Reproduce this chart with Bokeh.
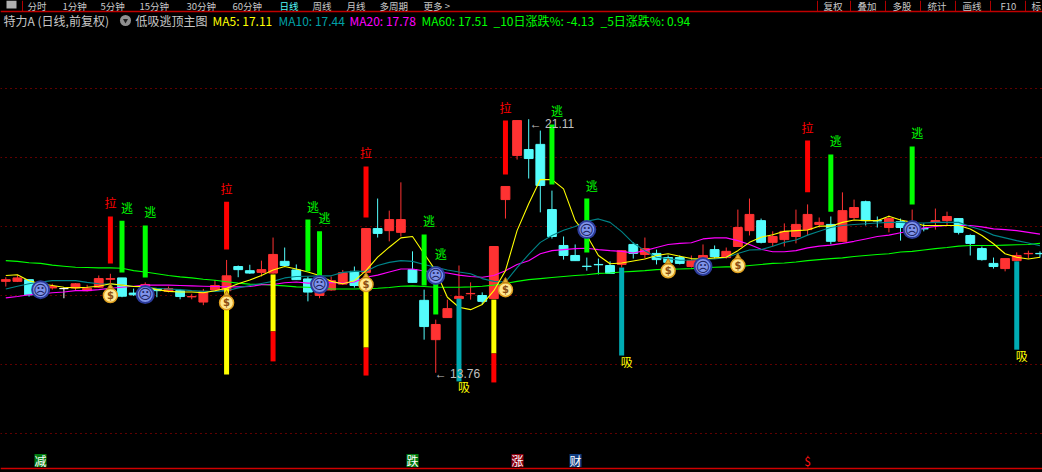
from bokeh.plotting import figure
from bokeh.embed import file_html
from bokeh.resources import INLINE
from bokeh.core.properties import value
from bokeh.models import FixedTicker, Range1d, GlobalInlineStyleSheet

# ---- series (prices) ----
opens = [16.41,16.41,16.46,16.32,16.22,16.20,16.22,16.14,16.24,16.47,16.51,16.07,16.14,16.19,16.12,16.14,15.96,15.81,16.16,16.14,
         16.84,16.72,16.67,16.65,16.99,16.74,16.48,16.00,16.16,16.33,16.70,16.67,17.94,17.88,17.83,16.75,15.86,14.72,15.36,15.91,
         16.05,16.00,15.91,18.78,20.06,20.23,20.38,18.49,17.45,17.16,16.85,16.90,16.87,16.90,17.48,17.19,17.22,17.10,17.10,16.84,
         17.07,17.33,17.10,17.42,17.88,18.17,17.54,17.62,17.71,17.91,18.06,18.06,17.57,18.26,18.72,18.17,17.97,18.14,17.97,17.94,
         18.12,18.17,18.23,17.74,17.36,16.93,16.78,17.01,17.21,17.22]
closes = [16.46,16.51,16.02,16.14,16.26,16.20,16.34,16.21,16.49,16.49,15.98,16.02,16.32,16.14,16.20,15.97,15.97,16.12,16.29,16.57,
          16.75,16.65,16.75,17.19,16.87,16.46,16.10,16.11,16.43,16.66,16.29,17.94,17.80,18.20,18.20,16.38,15.10,15.16,15.62,15.97,
          16.06,15.83,17.42,19.16,21.07,19.97,19.19,17.71,17.16,17.01,16.84,16.89,16.64,17.30,17.22,17.36,17.04,16.96,16.93,17.01,
          17.16,17.13,17.28,17.97,18.35,17.54,17.71,17.86,18.06,18.35,18.12,17.57,18.46,18.55,18.17,18.16,18.23,17.97,18.14,17.93,
          18.17,18.29,17.83,17.51,17.04,16.84,17.07,17.16,17.22,17.21]
highs = [16.53,16.60,16.46,16.38,16.34,16.24,16.36,16.31,16.58,16.63,16.51,16.20,16.38,16.19,16.26,16.19,16.05,16.19,16.45,17.03,
         16.87,16.89,17.01,17.68,17.39,16.90,16.55,16.24,16.55,16.74,16.84,17.94,18.81,18.46,19.28,17.28,16.17,15.30,15.88,16.87,
         16.38,16.09,17.42,19.16,21.07,21.11,20.78,19.04,17.71,17.48,17.10,17.07,16.99,17.30,17.54,17.68,17.33,17.16,17.16,17.16,
         17.48,17.45,17.39,18.49,18.81,18.23,17.86,18.09,18.49,18.64,18.26,18.29,18.99,18.78,18.75,18.29,18.32,18.23,18.49,18.09,
         18.52,18.43,18.23,17.77,17.42,17.10,17.07,17.25,17.30,17.28]
lows = [16.26,16.39,15.97,16.06,16.17,15.92,16.14,16.12,16.22,16.34,15.95,15.99,16.08,15.95,16.09,15.89,15.89,15.72,16.14,16.14,
        16.53,16.63,16.55,16.63,16.84,16.45,15.83,15.92,16.14,16.31,16.23,16.67,17.68,17.57,17.71,16.38,14.72,13.76,15.36,15.28,
        15.88,15.74,15.91,18.23,19.94,19.39,18.41,17.65,17.04,17.01,16.72,16.61,16.64,16.81,17.07,17.07,16.90,16.93,16.90,16.81,
        17.01,17.07,17.07,17.42,17.74,17.51,17.42,17.42,17.51,17.74,17.97,17.48,17.57,18.20,18.03,17.97,17.83,17.59,17.88,17.86,
        17.91,18.03,17.77,17.16,17.01,16.78,16.70,16.99,17.07,17.10]

ma5 = [16.58,16.60,16.43,16.34,16.29,16.24,16.22,16.24,16.27,16.34,16.30,16.26,16.26,16.17,16.12,16.10,16.10,16.08,16.14,16.21,
       16.34,16.45,16.58,16.74,16.84,16.77,16.68,16.58,16.41,16.34,16.43,16.72,17.11,17.40,17.67,17.71,17.21,16.72,15.95,15.66,
       15.59,15.74,16.14,16.72,17.88,18.66,19.36,19.36,19.09,18.17,17.74,17.16,16.92,16.94,17.00,17.06,17.16,17.21,17.14,17.07,
       17.06,17.09,17.11,17.30,17.54,17.69,17.76,17.86,17.88,17.90,18.01,18.01,18.12,18.19,18.17,18.17,18.30,18.19,18.12,18.03,
       18.03,18.03,18.03,17.93,17.74,17.50,17.21,17.11,17.06,17.11]
ma10 = [16.19,16.27,16.34,16.39,16.43,16.43,16.43,16.38,16.34,16.33,16.30,16.26,16.24,16.21,16.19,16.17,16.14,16.12,16.12,16.14,
        16.22,16.29,16.35,16.41,16.51,16.55,16.56,16.57,16.57,16.67,16.70,16.70,16.87,16.96,17.01,16.99,16.90,16.82,16.74,16.68,
        16.63,16.49,16.41,16.39,16.81,17.19,17.54,17.74,17.89,18.00,18.15,18.22,18.12,17.85,17.52,17.30,17.11,17.07,17.02,17.03,
        17.06,17.06,17.10,17.22,17.32,17.33,17.43,17.54,17.61,17.75,17.86,17.97,18.03,18.06,18.08,18.10,18.12,18.12,18.10,18.10,
        18.12,18.12,18.12,18.00,17.90,17.75,17.67,17.59,17.52,17.44]
ma20 = [15.93,15.97,16.02,16.04,16.08,16.10,16.14,16.14,16.17,16.21,16.24,16.27,16.30,16.30,16.30,16.29,16.28,16.27,16.26,16.25,
        16.25,16.26,16.31,16.32,16.37,16.39,16.36,16.36,16.38,16.36,16.39,16.53,16.59,16.68,16.77,16.77,16.71,16.68,16.65,16.59,
        16.55,16.53,16.58,16.72,16.90,17.01,17.21,17.30,17.33,17.36,17.37,17.33,17.30,17.28,17.23,17.30,17.39,17.48,17.51,17.53,
        17.64,17.67,17.67,17.59,17.48,17.34,17.27,17.27,17.30,17.38,17.43,17.46,17.51,17.57,17.64,17.71,17.75,17.82,17.88,17.96,
        18.00,18.03,18.03,18.03,17.99,17.93,17.91,17.88,17.83,17.78]
ma60 = [17.01,16.99,16.95,16.93,16.88,16.85,16.82,16.81,16.80,16.80,16.79,16.72,16.68,16.63,16.58,16.54,16.51,16.47,16.44,16.40,
        16.36,16.33,16.32,16.30,16.28,16.25,16.24,16.22,16.19,16.19,16.19,16.20,16.21,16.23,16.27,16.28,16.26,16.24,16.24,16.24,
        16.25,16.27,16.30,16.35,16.41,16.46,16.49,16.52,16.55,16.58,16.60,16.64,16.65,16.68,16.70,16.72,16.75,16.76,16.77,16.78,
        16.80,16.82,16.83,16.83,16.87,16.90,16.93,16.94,16.97,17.01,17.04,17.07,17.09,17.13,17.16,17.19,17.21,17.26,17.28,17.32,
        17.36,17.39,17.43,17.45,17.45,17.45,17.46,17.47,17.48,17.51]

# signal bars: day index, top price, bottom price
la_idx = [9,19,31,43,69]
la_top = [18.29,18.72,19.74,21.07,20.49]
la_bot = [16.93,17.33,18.26,19.51,18.99]
tao_idx = [10,12,26,27,36,37,47,50,71,78]
tao_top = [18.17,18.03,18.20,17.86,17.77,16.84,20.96,18.81,20.09,20.32]
tao_bot = [16.67,16.52,16.70,16.38,16.29,15.45,19.22,17.25,18.43,18.64]
yel_idx = [19,23,31,42]
yel_top = [16.20,16.61,16.12,15.88]
yel_bot = [13.71,14.96,14.49,14.32]
low_red_idx = [23,31,42]
low_red_top = [14.96,14.49,14.32]
low_red_bot = [14.09,13.68,13.48]
xi_idx = [39,53,87]
xi_top = [15.91,16.81,16.99]
xi_bot = [13.51,14.26,14.43]

face_idx = [3,12,27,37,50,60,78]
face_y = [16.17,16.03,16.32,16.58,17.91,16.84,17.91]
bag_idx = [9,19,31,43,57,63]
bag_y = [16.09,15.88,16.41,16.26,16.81,16.96]

grid_prices = [12,14,16,18,20,22]

header_texts = ["特力A (日线,前复权)", "低吸逃顶主图", "MA5: 17.11", "MA10: 17.44", "MA20: 17.78", "MA60: 17.51", "_10日涨跌%: -4.13", "_5日涨跌%: 0.94"]
header_x = [3, 135, 212, 278, 349, 421, 493, 600]
header_col = ["#c8c8c8", "#c8c8c8", "#ffff00", "#00a0a8", "#ff00ff", "#00ff00", "#00ff00", "#00ff00"]
tool_texts = ["分时", "1分钟", "5分钟", "15分钟", "30分钟", "60分钟", "日线", "周线", "月线", "多周期", "更多 >"]
tool_x = [27, 62, 100, 139, 186, 232, 279, 312, 346, 379, 423]
right_texts = ["复权", "叠加", "多股", "统计", "画线", "F10", "标"]
right_x = [823, 857, 892, 927, 962, 1000, 1031]
sep_x = [22, 817, 850, 885, 920, 955, 990, 1025]
tag_texts = ["减", "跌", "涨", "财", "$"]
tag_x = [40, 412, 517, 575, 807]
tag_bg = ["#007c10", "#007c10", "#8c0010", "#103c80", "#000000"]
tag_fg = ["#ffffff", "#ffffff", "#ffffff", "#ffffff", "#ff1010"]

# reference pixels to data units, for the page furniture only
def rx(x): return (x - 5.3) / 11.62
def ry(y): return 18 + (226 - y) / 34.5
def rxs(v): return [rx(a) for a in v]

CJK = value("Noto Sans CJK SC")
p = figure(width=1042, height=472, output_backend="svg", toolbar_location=None,
           x_range=Range1d(rx(0), rx(1042)), y_range=Range1d(ry(472), ry(0)),
           background_fill_color="#000000", border_fill_color="#000000", min_border=0)
p.stylesheets = [GlobalInlineStyleSheet(css="html,body{background:#000;overflow:hidden;}")]
p.xaxis.visible = False
p.yaxis.visible = False
p.xgrid.visible = False
p.outline_line_color = None
p.ygrid[0].ticker = FixedTicker(ticks=grid_prices)
p.ygrid[0].grid_line_color = "#c00000"
p.ygrid[0].grid_line_dash = "1 4"
p.ygrid[0].grid_line_width = 1

# candles
n = len(opens)
idx = list(range(n))
cols = ["#ff3232" if c > o else "#54fcfc" if c < o else "#ffffff" for o, c in zip(opens, closes)]
tops = [max(o, c) for o, c in zip(opens, closes)]
bots = [min(o, c) for o, c in zip(opens, closes)]
p.segment(idx, lows, idx, highs, line_color=cols, line_width=1)
p.vbar(x=idx, top=tops, bottom=bots, width=0.76, fill_color=cols, line_color=cols, line_width=1)

# moving averages
for ma, col in ((ma60, "#00ff00"), (ma20, "#ff00ff"), (ma10, "#008488"), (ma5, "#ffff00")):
    p.line(idx, ma, line_color=col, line_width=1.1)

# signal bars
bw = 0.43
p.vbar(x=la_idx, top=la_top, bottom=la_bot, width=bw, fill_color="#ff0000", line_color=None)
p.vbar(x=tao_idx, top=tao_top, bottom=tao_bot, width=bw, fill_color="#00ff00", line_color=None)
p.vbar(x=yel_idx, top=yel_top, bottom=yel_bot, width=bw, fill_color="#ffff00", line_color=None)
p.vbar(x=low_red_idx, top=low_red_top, bottom=low_red_bot, width=bw, fill_color="#ff0000", line_color=None)
p.vbar(x=xi_idx, top=xi_top, bottom=xi_bot, width=bw, fill_color="#00acb4", line_color=None)

# signal captions
sig = dict(text_font=CJK, text_font_size="12px", text_align="center")
p.text(la_idx, la_top, text=["拉"] * len(la_idx), text_color="#ff0000", text_baseline="bottom", y_offset=-5, **sig)
p.text(tao_idx, tao_top, text=["逃"] * len(tao_idx), text_color="#00ff00", text_baseline="bottom", y_offset=-5, x_offset=5, **sig)
p.text(xi_idx, xi_bot, text=["吸"] * len(xi_idx), text_color="#ffff00", text_baseline="top", x_offset=5, y_offset=-3, **sig)

# high / low marks
p.text([45, 37], [21.11, 13.76], text=["← 21.11", "← 13.76"], text_color="#c0c0c0", text_font=value("Liberation Sans"),
       text_font_size="12px", text_baseline="middle", text_align="left", x_offset=[1, -1], y_offset=[5, 1])

# face icons
p.scatter(face_idx, face_y, size=17, marker="circle", fill_color="#7f93ea", line_color="#2c3c9c", line_width=2)
p.text(face_idx, face_y, text=["☹"] * len(face_idx), text_color="#1c2460", text_font=value("DejaVu Sans"),
       text_font_size="14px", text_align="center", text_baseline="middle")

# money bag icons
p.scatter(bag_idx, [b - 0.09 for b in bag_y], size=14, marker="circle", fill_color="#ffe890", line_color="#e0a020", line_width=1.5)
p.scatter(bag_idx, [b + 0.16 for b in bag_y], size=6, marker="triangle", fill_color="#e0b030", line_color="#b87810")
p.text(bag_idx, [b - 0.09 for b in bag_y], text=["$"] * len(bag_idx), text_color="#8c4c10", text_font=value("DejaVu Sans"),
       text_font_size="10px", text_font_style="bold", text_align="center", text_baseline="middle")

# top toolbar
p.segment(rxs(sep_x), [ry(0)] * len(sep_x), rxs(sep_x), [ry(11)] * len(sep_x), line_color="#b00000", line_width=1)
p.line([rx(0), rx(1042)], [ry(11), ry(11)], line_color="#c00000", line_width=1.5)
p.rect([rx(11)], [ry(4)], width=10 / 11.62, height=8 / 34.5, fill_color="#b0b0b0", line_color=None)
p.text(rxs(tool_x), [ry(5)] * len(tool_x), text=tool_texts, text_font=CJK, text_font_size="9.5px", text_baseline="middle",
       text_color=["#c8c8c8"] * 6 + ["#54fcfc"] + ["#c8c8c8"] * 4)
p.text(rxs(right_x), [ry(5)] * len(right_x), text=right_texts, text_font=CJK, text_font_size="9.5px", text_baseline="middle",
       text_color="#c8c8c8")

# header line
p.text(rxs(header_x), [ry(20)] * len(header_x), text=header_texts, text_color=header_col, text_font=CJK,
       text_font_size="12px", text_baseline="middle")
p.scatter([rx(125)], [ry(20)], size=11, marker="circle", fill_color="#909090", line_color=None)
p.scatter([rx(125)], [ry(20)], size=5, marker="inverted_triangle", fill_color="#202020", line_color=None)

# bottom tags
p.rect(rxs(tag_x), [ry(460)] * len(tag_x), width=12 / 11.62, height=13 / 34.5, fill_color=tag_bg, line_color=None)
p.text(rxs(tag_x), [ry(460)] * len(tag_x), text=tag_texts, text_color=tag_fg, text_font=CJK, text_font_size="12px",
       text_align="center", text_baseline="middle")
p.line([rx(0), rx(1042)], [ry(468), ry(468)], line_color="#d00000", line_width=1.5)

open("out.html", "w").write(file_html(p, INLINE))
